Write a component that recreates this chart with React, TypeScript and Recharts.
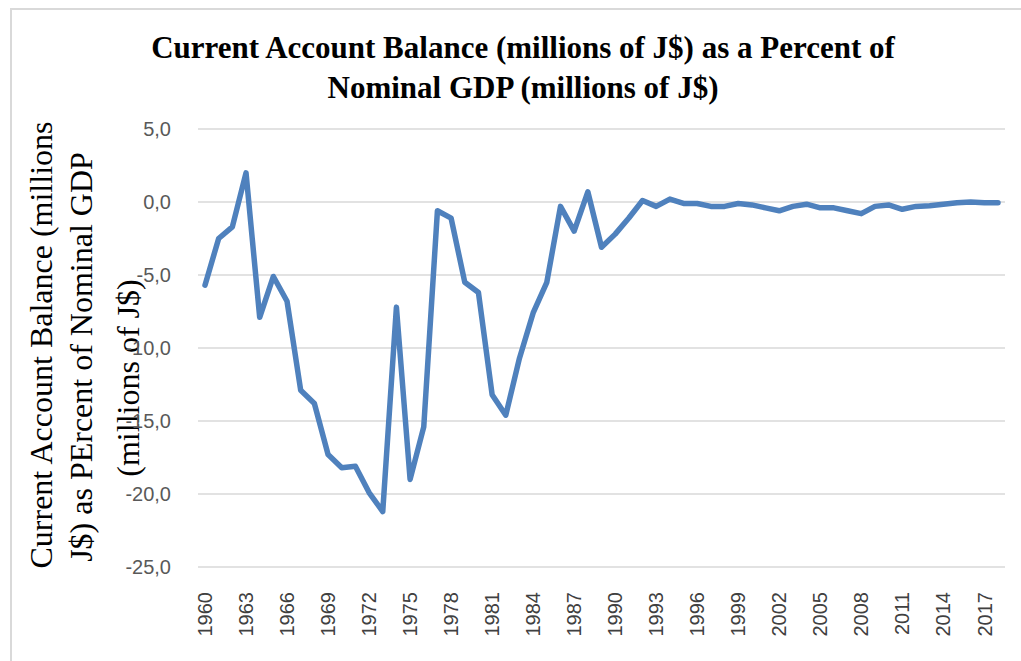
import { LineChart, Line, XAxis, YAxis, CartesianGrid } from 'recharts';

const years = [
  1960, 1961, 1962, 1963, 1964, 1965, 1966, 1967, 1968, 1969,
  1970, 1971, 1972, 1973, 1974, 1975, 1976, 1977, 1978, 1979,
  1980, 1981, 1982, 1983, 1984, 1985, 1986, 1987, 1988, 1989,
  1990, 1991, 1992, 1993, 1994, 1995, 1996, 1997, 1998, 1999,
  2000, 2001, 2002, 2003, 2004, 2005, 2006, 2007, 2008, 2009,
  2010, 2011, 2012, 2013, 2014, 2015, 2016, 2017, 2018,
];

const balancePct = [
  -5.7, -2.5, -1.7, 2.0, -7.9, -5.1, -6.8, -12.9, -13.8, -17.3,
  -18.2, -18.1, -19.9, -21.2, -7.2, -19.0, -15.4, -0.6, -1.1, -5.5,
  -6.2, -13.2, -14.6, -10.7, -7.6, -5.5, -0.3, -2.0, 0.7, -3.1,
  -2.2, -1.1, 0.1, -0.3, 0.2, -0.1, -0.1, -0.3, -0.3, -0.1,
  -0.2, -0.4, -0.6, -0.3, -0.15, -0.4, -0.4, -0.6, -0.8, -0.3,
  -0.2, -0.5, -0.3, -0.25, -0.15, -0.05, 0.0, -0.05, -0.05,
];

const yTicks = [-25, -20, -15, -10, -5, 0, 5];

const data = years.map((year, i) => ({ year, value: balancePct[i] }));

const fmt = (v: number) => v.toFixed(1).replace('.', ',');

function YearTick(props: any) {
  const { x, y, payload } = props;
  const ty = y + 17;
  return (
    <text
      x={x}
      y={ty}
      transform={`rotate(-90, ${x}, ${ty})`}
      textAnchor="end"
      dy="0.36em"
      fontFamily="Liberation Sans"
      fontSize={20}
      fill="#404040"
    >
      {payload.value}
    </text>
  );
}

const serif = '"Liberation Serif", serif';

export default function App() {
  return (
    <div
      style={{
        position: 'absolute',
        left: 0,
        top: 0,
        width: 1021,
        height: 661,
        overflow: 'hidden',
        background: '#fff',
      }}
    >
      <div
        style={{
          position: 'absolute',
          left: 10,
          top: 8,
          width: 1020,
          height: 660,
          borderLeft: '2px solid #d9d9d9',
          borderTop: '2px solid #d9d9d9',
        }}
      />
      <div
        style={{
          position: 'absolute',
          left: 0,
          top: 28,
          width: 1046,
          textAlign: 'center',
          fontFamily: serif,
          fontWeight: 'bold',
          fontSize: 31,
          lineHeight: '40px',
          color: '#000',
        }}
      >
        Current Account Balance (millions of J$) as a Percent of
        <br />
        Nominal GDP (millions of J$)
      </div>
      <svg
        width={200}
        height={661}
        style={{ position: 'absolute', left: 0, top: 0 }}
      >
        <g fontFamily={serif} fontSize={32} fill="#000" textAnchor="middle">
          <text x={52} y={345} transform="rotate(-90, 52, 345)">
            Current Account Balance (millions
          </text>
          <text x={92} y={357} transform="rotate(-90, 92, 357)">
            J$) as PErcent of Nominal GDP
          </text>
          <text x={139} y={378} transform="rotate(-90, 139, 378)">
            (millions of J$)
          </text>
        </g>
      </svg>
      <div style={{ position: 'absolute', left: 0, top: 0 }}>
        <LineChart
          width={1021}
          height={661}
          data={data}
          margin={{ top: 129, right: 16, bottom: 4, left: 0 }}
        >
          <CartesianGrid vertical={false} stroke="#d9d9d9" strokeWidth={1.5} />
          <XAxis
            dataKey="year"
            interval={2}
            tickLine={false}
            axisLine={false}
            padding={{ left: 7, right: 7 }}
            height={90}
            tick={<YearTick />}
          />
          <YAxis
            domain={[-25, 5]}
            ticks={yTicks}
            width={198}
            tickLine={false}
            axisLine={false}
            tickSize={0}
            tickMargin={27}
            tickFormatter={fmt}
            tick={{ fontFamily: 'Liberation Sans', fontSize: 20, fill: '#595959' }}
          />
          <Line
            type="linear"
            dataKey="value"
            stroke="#4f81bd"
            strokeWidth={5.5}
            strokeLinejoin="round"
            strokeLinecap="round"
            dot={false}
            isAnimationActive={false}
          />
        </LineChart>
      </div>
    </div>
  );
}
